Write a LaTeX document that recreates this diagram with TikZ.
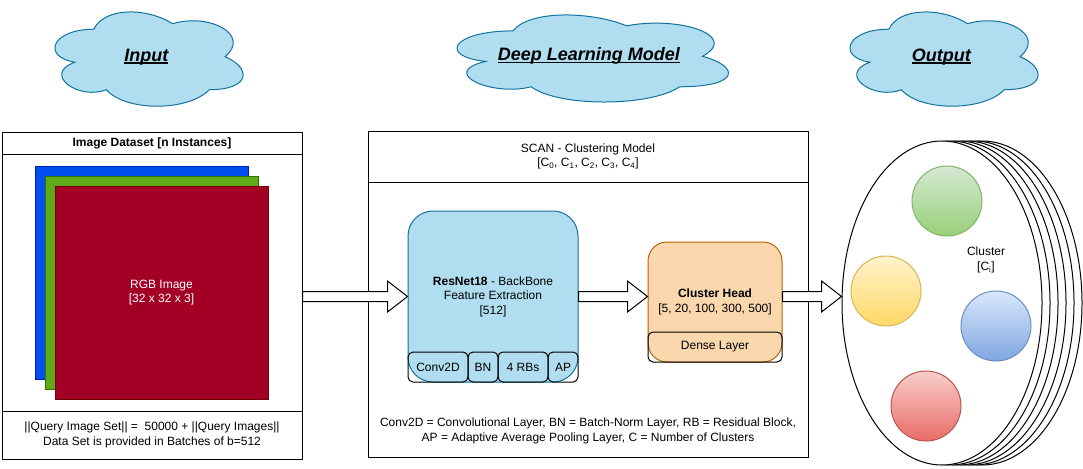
\documentclass[tikz,border=0pt]{standalone}
\usepackage{fontspec}
\setmainfont{Liberation Sans}
\usetikzlibrary{calc,shapes.geometric}
\definecolor{lblue}{HTML}{B1DDF0}
\definecolor{dblue}{HTML}{10739E}
\definecolor{lorange}{HTML}{FAD7AC}
\definecolor{dorange}{HTML}{B46504}
\definecolor{rgbB}{HTML}{0050EF}
\definecolor{rgbBd}{HTML}{001DBC}
\definecolor{rgbG}{HTML}{60A917}
\definecolor{rgbGd}{HTML}{2D7600}
\definecolor{rgbR}{HTML}{A20025}
\definecolor{rgbRd}{HTML}{6F0000}
\definecolor{gtop}{HTML}{D5E8D4}\definecolor{gbot}{HTML}{97D077}\definecolor{gline}{HTML}{82B366}
\definecolor{ytop}{HTML}{FFF2CC}\definecolor{ybot}{HTML}{FFD966}\definecolor{yline}{HTML}{D6B656}
\definecolor{btop}{HTML}{DAE8FC}\definecolor{bbot}{HTML}{7EA6E0}\definecolor{bline}{HTML}{6C8EBF}
\definecolor{rtop}{HTML}{F8CECC}\definecolor{rbot}{HTML}{EA6B66}\definecolor{rline}{HTML}{B85450}
\newcommand\myul[1]{\sbox0{#1}\rlap{\rule[-2.5pt]{\wd0}{1.2pt}}\usebox0}
\newcommand\drawcloud[4]{%
\begin{scope}[shift={(#1pt,-#2pt)},x=#3pt,y=-#4pt]
\draw[cloudsty] (0.25,0.25) .. controls (0.05,0.25) and (0,0.5) .. (0.16,0.55)
 .. controls (0,0.66) and (0.18,0.9) .. (0.31,0.8)
 .. controls (0.4,1) and (0.7,1) .. (0.8,0.8)
 .. controls (1,0.8) and (1,0.6) .. (0.875,0.5)
 .. controls (1,0.3) and (0.8,0.1) .. (0.625,0.2)
 .. controls (0.5,0.05) and (0.3,0.05) .. (0.25,0.25) -- cycle;
\end{scope}}
\newcommand\blockarrow[2]{%
\draw[barrow] let \p1=(#1), \p2=(#2), \p3=(flow) in
 (\x1,\y3+5pt) -- (\x2-20pt,\y3+5pt) -- (\x2-20pt,\y3+15.5pt) -- (\x2,\y3)
 -- (\x2-20pt,\y3-15.5pt) -- (\x2-20pt,\y3-5pt) -- (\x1,\y3-5pt) -- cycle;}
\tikzset{
 cloudsty/.style={draw=dblue,fill=lblue,line width=1pt},
 cloudtxt/.style={font=\fontsize{18}{21}\selectfont\bfseries\itshape},
 box/.style={draw=black,line width=1pt,inner sep=0pt,align=center},
 imgsq/.style={line width=1pt,minimum width=213pt,minimum height=213pt,inner sep=0pt},
 sub/.style={draw=black,line width=1pt,rounded corners=5pt,minimum height=30pt,inner sep=0pt},
 barrow/.style={draw=black,fill=white,line width=1pt,line join=miter},
 ell/.style={ellipse,draw=black,fill=white,line width=1pt,minimum width=200pt,minimum height=324pt,inner sep=0pt},
 ball/.style={circle,line width=1pt,minimum size=70pt,inner sep=0pt},
}
\begin{document}
\begin{tikzpicture}[x=1pt,y=-1pt,line width=1pt,font=\fontsize{12}{14.5}\selectfont]
\useasboundingbox (0,0) rectangle (1083,468);
\coordinate (flow) at (0,296.5);
% clouds
\drawcloud{41.3}{1.7}{210}{110}
\drawcloud{437.3}{5.5}{303}{101.6}
\drawcloud{836.3}{1.7}{210}{110}
\node[cloudtxt] (tin) at (146.3,56.7) {\myul{Input}};
\node[cloudtxt] (tdl) at (588.8,56.3) {\myul{Deep Learning Model}};
\node[cloudtxt] (tout) at (941.3,56.7) {\myul{Output}};
% input box
\node[box,minimum width=300pt,minimum height=22pt,font=\fontsize{12}{14.5}\selectfont\bfseries] (dshead) at (152,143) {Image Dataset [n Instances]};
\node[box,minimum width=300pt,minimum height=257pt] (dsbody) at (152,282.5) {};
\node[box,minimum width=300pt,minimum height=48pt] (dsfoot) at (152,435) {||Query Image Set|| = \ 50000 + ||Query Images||\\Data Set is provided in Batches of b=512};
\node[imgsq,fill=rgbB,draw=rgbBd] (imb) at (141.5,272.5) {};
\node[imgsq,fill=rgbG,draw=rgbGd] (img) at (151.5,282.5) {};
\node[imgsq,fill=rgbR,draw=rgbRd,text=white,align=center] (imr) at (161.5,292.5) {RGB Image\\{[32 x 32 x 3]}};
% model box
\node[box,minimum width=440pt,minimum height=51pt] (mhead) at (588,156.5) {SCAN - Clustering Model\\{[C\textsubscript{0}, C\textsubscript{1}, C\textsubscript{2}, C\textsubscript{3}, C\textsubscript{4}]}};
\node[box,minimum width=440pt,minimum height=275pt] (mbody) at (588,319.5) {};
\node[align=center] (legend) at (588,431) {Conv2D = Convolutional Layer, BN = Batch-Norm Layer, RB = Residual Block,\\AP = Adaptive Average Pooling Layer, C = Number of Clusters};
\node[draw=dblue,fill=lblue,rounded corners=25pt,minimum width=170pt,minimum height=171pt,inner sep=0pt,align=center] (res) at (493,296.5) {\textbf{ResNet18} - BackBone\\Feature Extraction\\{[512]}};
\node[sub,minimum width=60pt] (conv) at (438,367) {Conv2D};
\node[sub,minimum width=30pt] (bn) at (483,367) {BN};
\node[sub,minimum width=50pt] (rbs) at (523,367) {4 RBs};
\node[sub,minimum width=30pt] (ap) at (563,367) {AP};
\node[draw=dorange,fill=lorange,rounded corners=19pt,minimum width=134pt,minimum height=120pt,inner sep=0pt,align=center] (chead) at (715,302) {\textbf{Cluster Head}\\{[5, 20, 100, 300, 500]}};
\node[sub,minimum width=134pt] (dense) at (715,347) {Dense Layer};
% output
\node[ell] (e5) at (982,303) {};
\node[ell] (e4) at (974,303) {};
\node[ell] (e3) at (966,303) {};
\node[ell] (e2) at (958,303) {};
\node[ell] (e1) at (950,303) {};
\node[ell] (clu) at (942,303) {};
\node[ball,draw=gline,top color=gtop,bottom color=gbot] (cg) at (947,201) {};
\node[ball,draw=yline,top color=ytop,bottom color=ybot] (cy) at (886,291) {};
\node[ball,draw=bline,top color=btop,bottom color=bbot] (cb) at (996,326) {};
\node[ball,draw=rline,top color=rtop,bottom color=rbot] (cr) at (926,406) {};
\node[align=center] (ctext) at (986,260) {Cluster\\{[C\textsubscript{i}]}};
% arrows
\blockarrow{dsbody.east}{res.west}
\blockarrow{res.east}{chead.west}
\blockarrow{chead.east}{clu.west}
\end{tikzpicture}
\end{document}
